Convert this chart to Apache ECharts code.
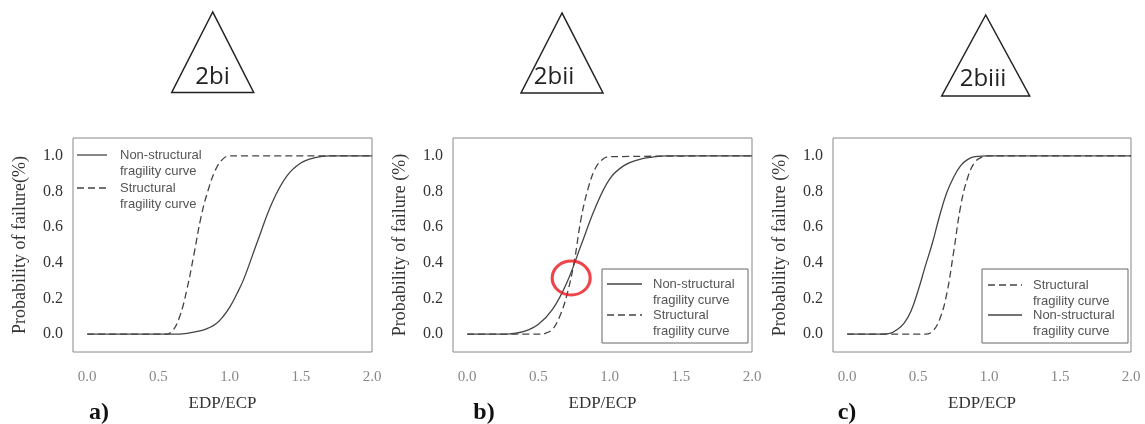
<!DOCTYPE html>
<html>
<head>
<meta charset="utf-8">
<script src="https://cdn.jsdelivr.net/npm/echarts@6/dist/echarts.min.js"></script>
<style>
  html, body { margin: 0; padding: 0; background: #fff; }
  #chart { width: 1145px; height: 424px; }
</style>
</head>
<body>
<div id="chart"></div>
<script>
// Fragility curves: probability of failure vs EDP/ECP for three cases

// Panel a)
const aStructX = [0, 0.55, 0.6, 0.65, 0.7, 0.75, 0.8, 0.85, 0.9, 0.95, 1.0, 2.0];
const aStructY = [0, 0, 0.02, 0.10, 0.25, 0.45, 0.66, 0.81, 0.92, 0.98, 1.0, 1.0];
const aNonX = [0, 0.6, 0.7, 0.8, 0.85, 0.9, 0.95, 1.0, 1.05, 1.1, 1.2, 1.3, 1.4, 1.5, 1.6, 1.7, 2.0];
const aNonY = [0, 0, 0.005, 0.02, 0.034, 0.055, 0.095, 0.15, 0.225, 0.31, 0.53, 0.74, 0.885, 0.96, 0.99, 1.0, 1.0];

// Panel b)
const bStructX = [0, 0.5, 0.55, 0.6, 0.65, 0.7, 0.75, 0.8, 0.85, 0.9, 0.95, 1.0, 2.0];
const bStructY = [0, 0, 0.005, 0.028, 0.10, 0.22, 0.40, 0.65, 0.82, 0.93, 0.98, 0.995, 1.0];
const bNonX = [0, 0.25, 0.3, 0.4, 0.5, 0.6, 0.7, 0.8, 0.9, 1.0, 1.1, 1.2, 1.3, 1.4, 2.0];
const bNonY = [0, 0, 0.002, 0.015, 0.055, 0.14, 0.29, 0.50, 0.71, 0.87, 0.945, 0.978, 0.993, 1.0, 1.0];
const bCrossing = [0.73, 0.315];

// Panel c)
const cStructX = [0, 0.55, 0.6, 0.65, 0.7, 0.75, 0.8, 0.85, 0.9, 0.95, 1.0, 2.0];
const cStructY = [0, 0, 0.015, 0.08, 0.22, 0.46, 0.72, 0.88, 0.965, 0.993, 1.0, 1.0];
const cNonX = [0, 0.25, 0.3, 0.35, 0.4, 0.45, 0.5, 0.55, 0.6, 0.65, 0.7, 0.75, 0.8, 0.85, 0.9, 1.0, 2.0];
const cNonY = [0, 0, 0.004, 0.025, 0.06, 0.13, 0.245, 0.38, 0.51, 0.66, 0.79, 0.88, 0.945, 0.98, 0.995, 1.0, 1.0];

// Axis ticks and labels
const xTicks = [0, 0.5, 1.0, 1.5, 2.0];
const yTicks = [0, 0.2, 0.4, 0.6, 0.8, 1.0];
const xName = 'EDP/ECP';
const yNames = ['Probability of failure(%)', 'Probability of failure (%)', 'Probability of failure (%)'];
const panelTags = ['a)', 'b)', 'c)'];
const badgeTexts = ['2bi', '2bii', '2biii'];
const nonLabel = ['Non-structural', 'fragility curve'];
const structLabel = ['Structural', 'fragility curve'];

const pairs = (xs, ys) => xs.map((x, i) => [x, ys[i]]);

const lineColor = '#444';
const dashPattern = [7, 4];

const gridLefts = [73, 453, 833];
const gridWidths = [299, 299, 298];

const grids = gridLefts.map((l, i) => ({
  left: l, top: 138, width: gridWidths[i], height: 214,
  show: true, borderColor: '#888', borderWidth: 1, backgroundColor: 'transparent'
}));

const xAxes = [0, 1, 2].map(i => ({
  type: 'value', gridIndex: i, min: -0.1, max: 2.0,
  name: xName, nameLocation: 'middle', nameGap: 43,
  nameTextStyle: { fontFamily: 'Liberation Serif', fontSize: 17, color: '#333' },
  axisLine: { show: false }, axisTick: { show: false }, splitLine: { show: false },
  axisLabel: {
    customValues: xTicks, margin: 18,
    formatter: v => v.toFixed(1),
    fontFamily: 'Liberation Serif', fontSize: 15, color: '#888'
  }
}));

const yAxes = [0, 1, 2].map(i => ({
  type: 'value', gridIndex: i, min: -0.1, max: 1.1,
  name: yNames[i], nameLocation: 'middle', nameGap: 44, nameRotate: 90,
  nameTextStyle: { fontFamily: 'Liberation Serif', fontSize: 18, color: '#333' },
  axisLine: { show: false }, axisTick: { show: false }, splitLine: { show: false },
  axisLabel: {
    customValues: yTicks, margin: 10,
    formatter: v => v.toFixed(1),
    fontFamily: 'Liberation Serif', fontSize: 16, color: '#333'
  }
}));

function curve(name, idx, xs, ys, dashed) {
  return {
    name, type: 'line', xAxisIndex: idx, yAxisIndex: idx,
    data: pairs(xs, ys), symbol: 'none', smooth: 0.4,
    lineStyle: { color: lineColor, width: 1.3, type: dashed ? dashPattern : 'solid' },
    silent: true, z: 3
  };
}

const series = [
  curve('Non-structural a', 0, aNonX, aNonY, false),
  curve('Structural a', 0, aStructX, aStructY, true),
  curve('Non-structural b', 1, bNonX, bNonY, false),
  curve('Structural b', 1, bStructX, bStructY, true),
  curve('Non-structural c', 2, cNonX, cNonY, false),
  curve('Structural c', 2, cStructX, cStructY, true),
  {
    type: 'scatter', xAxisIndex: 1, yAxisIndex: 1,
    data: [bCrossing], symbol: 'circle', symbolSize: [38, 34],
    itemStyle: { color: 'rgba(0,0,0,0)', borderColor: '#e8161b', borderWidth: 3 },
    silent: true, z: 5
  }
];

// Legend block: sample line plus two-line caption per entry
const legendFont = '13px "Liberation Sans", Arial, sans-serif';
function legendEntry(x, y, dashed, lines, lineLen, textX) {
  return [
    {
      type: 'line', shape: { x1: x, y1: y, x2: x + lineLen, y2: y },
      style: { stroke: lineColor, lineWidth: 1.3, lineDash: dashed ? dashPattern : null }
    },
    {
      type: 'text', x: textX, y: y - 8,
      style: { text: lines.join('\n'), font: legendFont, fill: '#555',
               lineHeight: 16, verticalAlign: 'top' }
    }
  ];
}

function badge(cx, topY, baseY, halfW, label, tx, ty) {
  return [
    {
      type: 'polygon',
      shape: { points: [[cx, topY], [cx - halfW, baseY], [cx + halfW, baseY]] },
      style: { fill: 'none', stroke: '#222', lineWidth: 1.5 }
    },
    {
      type: 'text', x: tx, y: ty,
      style: { text: label, font: '24px "Open Sans", sans-serif', fill: '#222',
               align: 'center', verticalAlign: 'middle' }
    }
  ];
}

const graphic = [
  ...badge(212.7, 12, 92.5, 41, badgeTexts[0], 212.5, 77),
  ...badge(562, 13, 93, 41, badgeTexts[1], 554, 77),
  ...badge(985.7, 15, 96, 44, badgeTexts[2], 983, 79),
  // legend a
  ...legendEntry(77, 155, false, nonLabel, 30, 120),
  ...legendEntry(77, 188, true, structLabel, 30, 120),
  // legend b
  { type: 'rect', shape: { x: 602, y: 269, width: 146, height: 74 },
    style: { fill: '#fff', stroke: '#666', lineWidth: 1 }, z: 10 },
  ...legendEntry(607, 284, false, nonLabel, 35, 653).map(e => ({ ...e, z: 11 })),
  ...legendEntry(607, 315, true, structLabel, 35, 653).map(e => ({ ...e, z: 11 })),
  // legend c
  { type: 'rect', shape: { x: 982, y: 269, width: 146, height: 74 },
    style: { fill: '#fff', stroke: '#666', lineWidth: 1 }, z: 10 },
  ...legendEntry(988, 285, true, structLabel, 34, 1033).map(e => ({ ...e, z: 11 })),
  ...legendEntry(988, 315, false, nonLabel, 34, 1033).map(e => ({ ...e, z: 11 })),
  // panel tags
  ...panelTags.map((t, i) => ({
    type: 'text', x: [99, 484, 847][i], y: 413,
    style: { text: t, font: 'bold 24px "Liberation Serif", serif', fill: '#111',
             align: 'center', verticalAlign: 'middle' }
  }))
];

const chart = echarts.init(document.getElementById('chart'), null, { renderer: 'canvas' });
chart.setOption({
  animation: false,
  backgroundColor: '#fff',
  grid: grids,
  xAxis: xAxes,
  yAxis: yAxes,
  series,
  graphic
});
</script>
</body>
</html>
